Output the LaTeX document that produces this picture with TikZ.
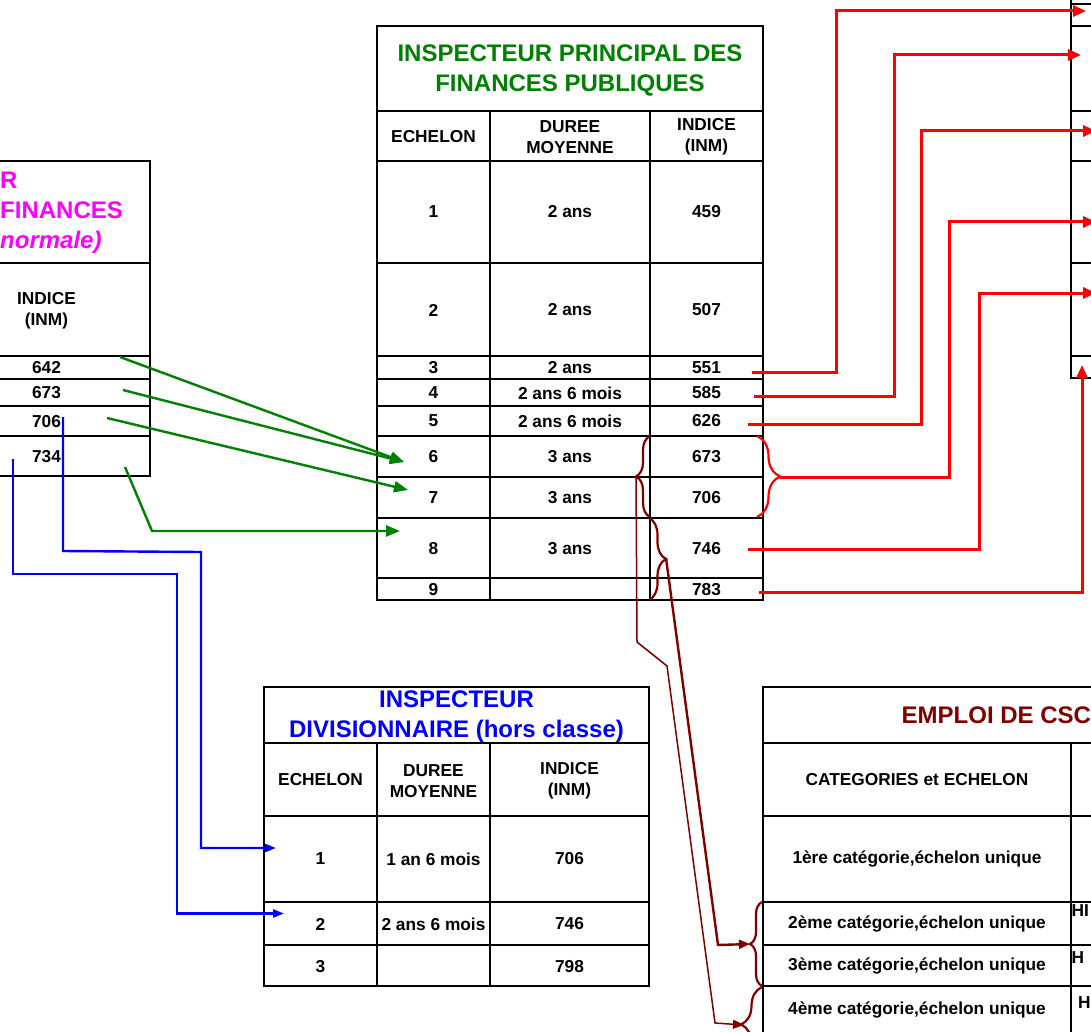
\documentclass[tikz,border=0pt]{standalone}
\usepackage{fontspec}
\setmainfont{Liberation Sans}
\usetikzlibrary{arrows.meta,decorations.pathreplacing}
\definecolor{ipgreen}{RGB}{0,128,0}
\definecolor{idblue}{RGB}{0,0,255}
\definecolor{ifmagenta}{RGB}{255,0,255}
\definecolor{cscred}{RGB}{128,0,0}

\begin{document}
\begin{tikzpicture}[
    x=1pt, y=-1pt,  % one unit = one pixel, y pointing down
    % Global styles
    tabline/.style={line width=2.4pt},
    celltext/.style={font=\bfseries\fontsize{17.3}{21}\selectfont, align=center, inner sep=0pt},
    titletext/.style={font=\bfseries\fontsize{24}{30}\selectfont, align=center, inner sep=0pt},
    greenarrow/.style={ipgreen, line width=2.4pt, -{Triangle[length=14pt, width=11pt]}},
    bluearrow/.style={idblue, line width=2.4pt, -{Triangle[length=11pt, width=8pt]}},
    redarrow/.style={red, line width=3pt, -{Triangle[length=13pt, width=11pt]}},
    cscarrow/.style={cscred, -{Triangle[length=11pt, width=9pt]}},
    redbrace/.style={red, line width=2.2pt, decorate, decoration={brace, amplitude=#1}},
    cscbrace/.style={cscred, line width=2.2pt, decorate, decoration={brace, amplitude=#1}},
    ]
    \useasboundingbox (0,0) rectangle (1091,1032);
    \clip (0,0) rectangle (1091,1032);

    % ===========================
    % LEFT TABLE (cut off)
    % ===========================
    \draw[tabline] (-5,161) -- (150,161) -- (150,476) -- (-5,476);
    \draw[tabline] (-5,263) -- (150,263) (-5,356) -- (150,356) (-5,379) -- (150,379)
                   (-5,406) -- (150,406) (-5,436) -- (150,436);

    \node[titletext, ifmagenta, anchor=west, align=left] (ftitle) at (0,213) {R\\FINANCES\\\textit{normale)}};
    \node[celltext] (find) at (46.5,310.5) {INDICE\\(INM)};
    \node[celltext] (find1) at (46.5,368) {642};
    \node[celltext] (find2) at (46.5,393) {673};
    \node[celltext] (find3) at (46.5,421.5) {706};
    \node[celltext] (find4) at (46.5,457) {734};

    % ===========================
    % MIDDLE TABLE
    % ===========================
    \draw[tabline] (377,26) rectangle (763,600);
    \draw[tabline] (377,111) -- (763,111) (377,161) -- (763,161) (377,263) -- (763,263)
                   (377,356) -- (763,356) (377,379) -- (763,379) (377,406) -- (763,406)
                   (377,436) -- (763,436) (377,477) -- (763,477) (377,518) -- (763,518)
                   (377,578) -- (763,578);
    \draw[tabline] (490,111) -- (490,600) (650,111) -- (650,600);

    % Title
    \node[titletext, ipgreen] (ptitle) at (570,70) {INSPECTEUR PRINCIPAL DES\\FINANCES PUBLIQUES};

    % Header
    \node[celltext] (pech) at (433.5,137) {ECHELON};
    \node[celltext] (pdur) at (570,137) {DUREE\\MOYENNE};
    \node[celltext] (pind) at (706.5,137) {INDICE\\(INM)};

    % Rows
    \node[celltext] (pech1) at (433.5,212) {1};
    \node[celltext] (pdur1) at (570,212) {2 ans};
    \node[celltext] (pind1) at (706.5,212) {459};
    \node[celltext] (pech2) at (433.5,310) {2};
    \node[celltext] (pdur2) at (570,310) {2 ans};
    \node[celltext] (pind2) at (706.5,310) {507};
    \node[celltext] (pech3) at (433.5,368) {3};
    \node[celltext] (pdur3) at (570,368) {2 ans};
    \node[celltext] (pind3) at (706.5,368) {551};
    \node[celltext] (pech4) at (433.5,393) {4};
    \node[celltext] (pdur4) at (570,393) {2 ans 6 mois};
    \node[celltext] (pind4) at (706.5,393) {585};
    \node[celltext] (pech5) at (433.5,421) {5};
    \node[celltext] (pdur5) at (570,421) {2 ans 6 mois};
    \node[celltext] (pind5) at (706.5,421) {626};
    \node[celltext] (pech6) at (433.5,457) {6};
    \node[celltext] (pdur6) at (570,457) {3 ans};
    \node[celltext] (pind6) at (706.5,457) {673};
    \node[celltext] (pech7) at (433.5,498) {7};
    \node[celltext] (pdur7) at (570,498) {3 ans};
    \node[celltext] (pind7) at (706.5,498) {706};
    \node[celltext] (pech8) at (433.5,548.5) {8};
    \node[celltext] (pdur8) at (570,548.5) {3 ans};
    \node[celltext] (pind8) at (706.5,548.5) {746};
    \node[celltext] (pech9) at (433.5,590) {9};
    \node[celltext] (pind9) at (706.5,590) {783};

    % ===========================
    % RIGHT TABLE (cut off)
    % ===========================
    \draw[tabline] (1071,-5) -- (1071,378) -- (1095,378);
    \draw[tabline] (1071,4) -- (1095,4) (1071,26) -- (1095,26) (1071,111) -- (1095,111)
                   (1071,161) -- (1095,161) (1071,263) -- (1095,263) (1071,356) -- (1095,356);

    % ===========================
    % DIVISIONNAIRE TABLE
    % ===========================
    \draw[tabline] (264,687) rectangle (649,986);
    \draw[tabline] (264,743) -- (649,743) (264,816) -- (649,816) (264,902) -- (649,902)
                   (264,945) -- (649,945);
    \draw[tabline] (377,743) -- (377,986) (490,743) -- (490,986);

    \node[titletext, idblue] (dtitle) at (456.5,717) {INSPECTEUR\\DIVISIONNAIRE (hors classe)};
    \node[celltext] (dech) at (320.5,780) {ECHELON};
    \node[celltext] (ddur) at (433.5,781) {DUREE\\MOYENNE};
    \node[celltext] (dind) at (569.5,781) {INDICE\\(INM)};
    \node[celltext] (dech1) at (320.5,859) {1};
    \node[celltext] (ddur1) at (433.5,859) {1 an 6 mois};
    \node[celltext] (dind1) at (569.5,859) {706};
    \node[celltext] (dech2) at (320.5,924) {2};
    \node[celltext] (ddur2) at (433.5,924) {2 ans 6 mois};
    \node[celltext] (dind2) at (569.5,924) {746};
    \node[celltext] (dech3) at (320.5,966.5) {3};
    \node[celltext] (dind3) at (569.5,966.5) {798};

    % ===========================
    % CSC TABLE (cut off)
    % ===========================
    \draw[tabline] (1095,687) -- (763,687) -- (763,1040);
    \draw[tabline] (763,743) -- (1095,743) (763,816) -- (1095,816) (763,902) -- (1095,902)
                   (763,945) -- (1095,945) (763,986) -- (1095,986);
    \draw[tabline] (1071,743) -- (1071,1040);

    \node[titletext, cscred, anchor=west] (ctitle) at (901.5,715) {EMPLOI DE CSC};
    \node[celltext] (ccat) at (917,780) {CATEGORIES et ECHELON};
    \node[celltext] (ccat1) at (917,859) {1ère catégorie,échelon unique};
    \node[celltext] (ccat2) at (917,923.5) {2ème catégorie,échelon unique};
    \node[celltext] (ccat3) at (917,966) {3ème catégorie,échelon unique};
    \node[celltext] (ccat4) at (917,1010) {4ème catégorie,échelon unique};
    \node[celltext, anchor=west] (cval2) at (1071.5,911) {HI};
    \node[celltext, anchor=west] (cval3) at (1071.5,958) {H};
    \node[celltext, anchor=west] (cval4) at (1078,1003) {H};

    % ===========================
    % GREEN ARROWS
    % ===========================
    \coordinate (g642) at (120,357);
    \coordinate (g673) at (123,390);
    \coordinate (g706) at (107,418);
    \coordinate (g734) at (125,467);
    \coordinate (p6in) at (404,462);
    \coordinate (p7in) at (408,490);
    \coordinate (p8in) at (400,531);
    \draw[greenarrow] (g642) -- (p6in);
    \draw[greenarrow] (g673) -- (p6in);
    \draw[greenarrow] (g706) -- (p7in);
    \draw[greenarrow] (g734) -- (152,531) -- (p8in);

    % ===========================
    % BLUE ARROWS
    % ===========================
    \coordinate (b706) at (63,417);
    \coordinate (b734) at (13,459);
    \coordinate (d1in) at (276,848);
    \coordinate (d2in) at (284,913.5);
    \draw[bluearrow] (b706) -- (63,551) -- (201,552) -- (201,848) -- (d1in);
    \draw[bluearrow] (b734) -- (13,574) -- (177,574) -- (177,913.5) -- (d2in);

    % ===========================
    % RED ARROWS
    % ===========================
    \coordinate (r551) at (752,372);
    \coordinate (r585) at (754,396);
    \coordinate (r626) at (748,424.5);
    \coordinate (r746) at (748,549);
    \coordinate (r783) at (759,592);
    \coordinate (t1) at (1086,11);
    \coordinate (t2) at (1081,55);
    \coordinate (t3) at (1096,131);
    \coordinate (t4) at (1096,222);
    \coordinate (t5) at (1096,293);
    \coordinate (t6) at (1082,365);

    % brace over 673 and 706
    \draw[redbrace=23pt] (757,436) -- (757,517);
    \coordinate (rbtip) at (780,477);

    \draw[redarrow] (r551) -- (836,372) -- (836,11) -- (t1);
    \draw[redarrow] (r585) -- (894,396) -- (894,55) -- (t2);
    \draw[redarrow] (r626) -- (921,424.5) -- (921,131) -- (t3);
    \draw[redarrow] (rbtip) -- (949,477) -- (949,222) -- (t4);
    \draw[redarrow] (r746) -- (979,549) -- (979,293) -- (t5);
    \draw[redarrow] (r783) -- (1082,592) -- (t6);

    % ===========================
    % CSC BRACES AND ARROWS
    % ===========================
    \draw[cscbrace=14pt] (650,517) -- (650,436);
    \draw[cscbrace=17pt] (649,518) -- (649,600);
    \draw[cscbrace=12pt] (762,986) -- (762,902);
    \draw[cscbrace=21pt] (762,1062) -- (762,987);
    \coordinate (lbtip) at (636,476);
    \coordinate (rbtip2) at (666,558);
    \coordinate (c23in) at (750,944);
    \coordinate (c4in) at (744,1025);

    % thin line from 673/706
    \draw[cscarrow, line width=1.5pt] (lbtip) -- (637,642) -- (667,666) -- (715,1023) -- (c4in);
    % thick line from 746/783
    \draw[cscarrow, line width=2.4pt] (rbtip2) -- (718,945) -- (c23in);

\end{tikzpicture}
\end{document}
